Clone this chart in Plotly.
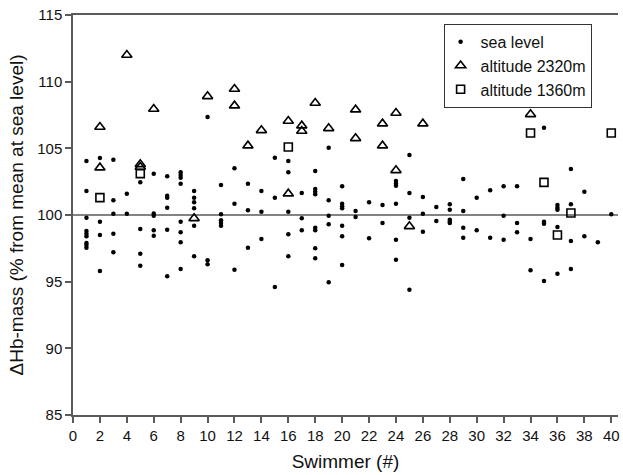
import plotly.graph_objects as go

# ---- data ----
sea_x = [1]*9 + [2]*4 + [3]*5 + [4]*2 + [5]*4 + [6]*5 + [7]*6 + [8]*8 + [9]*6 + [10]*3 \
    + [11]*5 + [12]*3 + [13]*3 + [14]*3 + [15]*3 + [16]*5 + [17]*3 + [18]*8 + [19]*5 + [20]*7 \
    + [21]*2 + [22]*2 + [23]*2 + [24]*6 + [25]*4 + [26]*3 + [27]*2 + [28]*5 + [29]*4 + [30]*2 \
    + [31]*2 + [32]*3 + [33]*3 + [34]*2 + [35]*4 + [36]*5 + [37]*4 + [38]*2 + [39]*1 + [40]*1
sea_y = [104.05, 101.8, 99.8, 98.8, 98.6, 98.4, 97.9, 97.75, 97.55,
         104.28, 99.5, 98.5, 95.8,
         104.15, 101.1, 100.1, 98.6, 97.2,
         101.6, 100.1,
         102.45, 98.95, 97.1, 96.2,
         103.1, 100.12, 99.95, 98.85, 98.45,
         102.9, 101.45, 101.3, 100.55, 98.9, 95.4,
         103.2, 103.0, 102.8, 102.35, 99.5, 98.7, 97.95, 95.95,
         101.8, 101.3, 100.95, 100.5, 99.2, 96.9,
         107.35, 96.6, 96.3,
         102.25, 100.05, 99.6, 99.4, 99.2,
         103.5, 100.85, 95.9,
         102.35, 100.35, 97.55,
         101.8, 100.25, 98.2,
         104.3, 101.3, 94.6,
         104.05, 103.2, 100.25, 98.55, 96.9,
         101.65, 99.75, 98.85,
         103.3, 101.95, 101.75, 101.55, 99.05, 98.85, 97.5, 96.75,
         105.05, 101.1, 99.95, 99.3, 94.95,
         102.15, 100.85, 100.65, 100.5, 99.2, 98.4, 96.25,
         100.3, 99.85,
         100.95, 98.25,
         100.75, 99.4,
         102.55, 102.35, 102.2, 100.85, 98.15, 96.65,
         104.5, 101.65, 99.8, 94.4,
         101.35, 100.1, 98.75,
         100.6, 99.55,
         100.8, 100.4, 99.65, 99.5, 99.4,
         102.7, 100.3, 99.05, 98.3,
         101.3, 98.85,
         101.85, 98.3,
         102.15, 99.95, 98.15,
         102.15, 99.4, 98.7,
         98.2, 95.85,
         106.55, 99.5, 99.35, 95.05,
         100.75, 100.55, 100.4, 99.1, 95.6,
         103.45, 100.8, 98.05, 95.95,
         101.75, 98.4,
         97.95,
         100.05]

alt2320_x = [2, 2, 4, 5, 5, 6, 9, 10, 12, 12, 13, 14, 16, 16, 17, 17, 18, 19,
             21, 21, 23, 23, 24, 24, 25, 26, 34]
alt2320_y = [106.6, 103.55, 112.0, 103.8, 103.6, 107.95, 99.75, 108.9, 109.45, 108.2,
             105.2, 106.35, 107.05, 101.6, 106.7, 106.3, 108.4, 106.5,
             107.9, 105.75, 106.85, 105.2, 107.65, 103.35, 99.15, 106.85, 107.55]

alt1360_x = [2, 5, 16, 34, 35, 36, 37, 40]
alt1360_y = [101.3, 103.1, 105.1, 106.15, 102.45, 98.5, 100.15, 106.15]

x_ticks = list(range(0, 41, 2))
y_ticks = [85, 90, 95, 100, 105, 110, 115]

FONT = "Liberation Sans, Arial, Helvetica, sans-serif"
AX = "#5a5a5a"

fig = go.Figure()
fig.add_trace(go.Scatter(x=sea_x, y=sea_y, mode="markers", name="sea level",
                         marker=dict(symbol="circle", size=4.5, color="black")))
fig.add_trace(go.Scatter(x=alt2320_x, y=alt2320_y, mode="markers", name="altitude 2320m",
                         marker=dict(symbol="triangle-up-open", size=9, color="black",
                                     line=dict(width=1.6, color="black"))))
fig.add_trace(go.Scatter(x=alt1360_x, y=alt1360_y, mode="markers", name="altitude 1360m",
                         marker=dict(symbol="square-open", size=8, color="black",
                                     line=dict(width=1.6, color="black"))))

fig.add_shape(type="line", xref="paper", x0=0, x1=1, yref="y", y0=100, y1=100,
              line=dict(color=AX, width=1.5), layer="below")

fig.update_layout(
    width=623, height=475,
    margin=dict(l=73, r=3, t=15, b=60),
    plot_bgcolor="white", paper_bgcolor="white",
    font=dict(family=FONT, size=15, color="#111"),
    showlegend=True,
    legend=dict(x=0.68, y=0.978, xanchor="left", yanchor="top",
                bordercolor="#333", borderwidth=1, bgcolor="white",
                font=dict(size=16, family=FONT), tracegroupgap=0,
                itemwidth=30, indentation=-4),
    xaxis=dict(range=[0, 40.5], tickvals=x_ticks, ticks="outside", ticklen=6,
               tickcolor=AX, tickwidth=1.5, showline=True, linecolor=AX, linewidth=1.5,
               mirror=True, showgrid=False, zeroline=False,
               title=dict(text="Swimmer (#)", font=dict(size=19), standoff=12),
               tickfont=dict(size=15)),
    yaxis=dict(range=[85, 115], tickvals=y_ticks, ticks="outside", ticklen=6,
               tickcolor=AX, tickwidth=1.5, showline=True, linecolor=AX, linewidth=1.5,
               showgrid=False, zeroline=False,
               title=dict(text="\u0394Hb-mass (% from mean at sea level)", font=dict(size=19),
                          standoff=9),
               tickfont=dict(size=15)),
)

fig.write_html("out.html")
